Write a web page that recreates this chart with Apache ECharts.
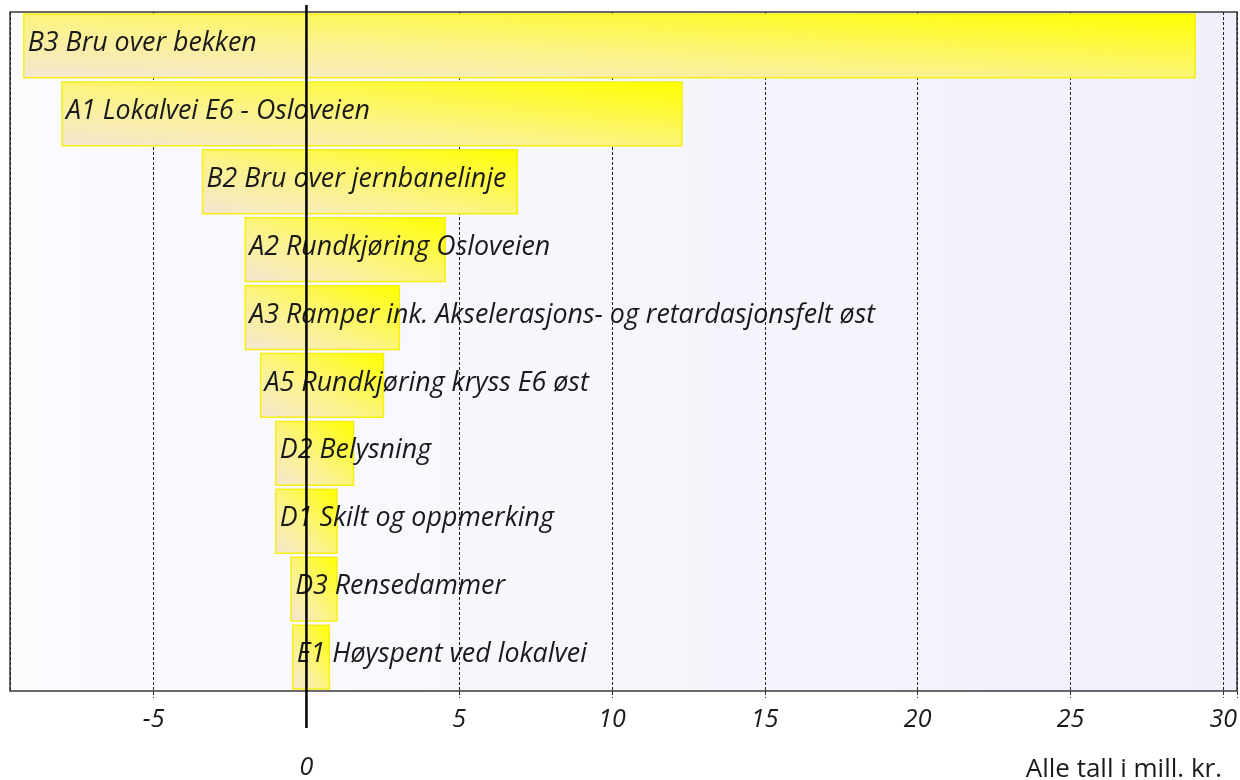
<!DOCTYPE html>
<html><head><meta charset="utf-8">
<script src="https://cdn.jsdelivr.net/npm/echarts@6/dist/echarts.min.js"></script>
<style>html,body{margin:0;padding:0;background:#fff}#c{width:1240px;height:780px}</style>
</head><body><div id="c"></div>
<script>
const categories = [
  'B3 Bru over bekken',
  'A1 Lokalvei E6 - Osloveien',
  'B2 Bru over jernbanelinje',
  'A2 Rundkjøring Osloveien',
  'A3 Ramper ink. Akselerasjons- og retardasjonsfelt øst',
  'A5 Rundkjøring kryss E6 øst',
  'D2 Belysning',
  'D1 Skilt og oppmerking',
  'D3 Rensedammer',
  'E1 Høyspent ved lokalvei'
];
const lowValues  = [-9.25, -8.0, -3.4, -2.0, -2.0, -1.5, -1.0, -1.0, -0.5, -0.45];
const highValues = [29.08, 12.29, 6.9, 4.54, 3.04, 2.52, 1.54, 1.0, 1.0, 0.75];
const unitText = 'Alle tall i mill. kr.';

const FONT = '"Open Sans", "Noto Sans", sans-serif';
const chart = echarts.init(document.getElementById('c'), null, {renderer: 'canvas'});

const barData = categories.map((c, i) => [lowValues[i], highValues[i], i]);

function renderBar(params, api) {
  const i = api.value(2);
  const p0 = api.coord([api.value(0), i]);
  const p1 = api.coord([api.value(1), i]);
  const h = api.size([0, 1])[1] * 0.94;
  const x0 = p0[0];
  const w = p1[0] - p0[0];
  const yTop = p0[1] - h / 2;
  const yBot = yTop + h;
  // gradient whose iso-lines follow the box diagonal (bottom-left pale -> top-right yellow)
  const vx = 1 / (2 * w), vy = -1 / (2 * h);
  const n2 = vx * vx + vy * vy;
  const grad = new echarts.graphic.LinearGradient(
    x0, yBot, x0 + vx / n2, yBot + vy / n2,
    [
      {offset: 0, color: '#f4e6d2'},
      {offset: 0.4, color: '#fbf290'},
      {offset: 1, color: '#ffff00'}
    ],
    true
  );
  return {
    type: 'group',
    children: [
      {
        type: 'rect',
        shape: {x: x0, y: yTop, width: w, height: h},
        style: {fill: grad, stroke: '#f6ef14', lineWidth: 1.5}
      },
      {
        type: 'text',
        x: x0 + 4,
        y: p0[1] - 2.5,
        style: {
          text: categories[i],
          font: 'italic 26.8px ' + FONT,
          fill: '#1a1a1a',
          align: 'left',
          verticalAlign: 'middle'
        }
      }
    ]
  };
}

function renderZero(params, api) {
  const p = api.coord([api.value(0), 0]);
  const cs = params.coordSys;
  return {
    type: 'line',
    shape: {x1: p[0], y1: cs.y - 7, x2: p[0], y2: cs.y + cs.height + 37},
    style: {stroke: '#000', lineWidth: 2.5}
  };
}

chart.setOption({
  animation: false,
  backgroundColor: '#ffffff',
  title: {
    text: unitText,
    right: 18,
    bottom: -3,
    padding: 0,
    textStyle: {fontFamily: FONT, fontSize: 26, fontWeight: 'normal', color: '#1a1a1a'}
  },
  grid: {
    left: 10, right: 2, top: 12, bottom: 87,
    show: true,
    borderColor: '#3a3a3a',
    borderWidth: 1.5,
    backgroundColor: new echarts.graphic.LinearGradient(0, 0, 1, 0, [
      {offset: 0, color: '#fbfbfe'},
      {offset: 1, color: '#f0f0fb'}
    ])
  },
  xAxis: {
    type: 'value',
    min: -9.7,
    max: 30.45,
    splitNumber: 8,
    axisLine: {show: false},
    axisTick: {show: true, length: 7, lineStyle: {color: '#333', type: 'dashed'}},
    splitLine: {show: true, lineStyle: {color: '#222', type: [3, 2], width: 1}},
    axisLabel: {
      margin: 16,
      fontFamily: FONT,
      fontSize: 25,
      fontStyle: 'italic',
      color: '#1a1a1a',
      showMinLabel: false,
      showMaxLabel: true,
      formatter: function (v) {
        if (v === 0) return '{z|0}';
        return (Math.abs(v % 5) < 1e-9) ? String(v) : '';
      },
      rich: {
        z: {fontFamily: FONT, fontSize: 25, fontStyle: 'italic', color: '#1a1a1a', padding: [48, 0, 0, 0]}
      }
    }
  },
  yAxis: {
    type: 'category',
    data: categories,
    inverse: true,
    axisLine: {show: false},
    axisTick: {show: false},
    axisLabel: {show: false},
    splitLine: {show: false}
  },
  series: [
    {
      type: 'custom',
      renderItem: renderBar,
      encode: {x: [0, 1], y: 2},
      data: barData,
      z: 2
    },
    {
      type: 'custom',
      renderItem: renderZero,
      encode: {x: 0, y: 1},
      data: [[0, 0]],
      clip: false,
      z: 10
    }
  ]
});
</script>
</body></html>
